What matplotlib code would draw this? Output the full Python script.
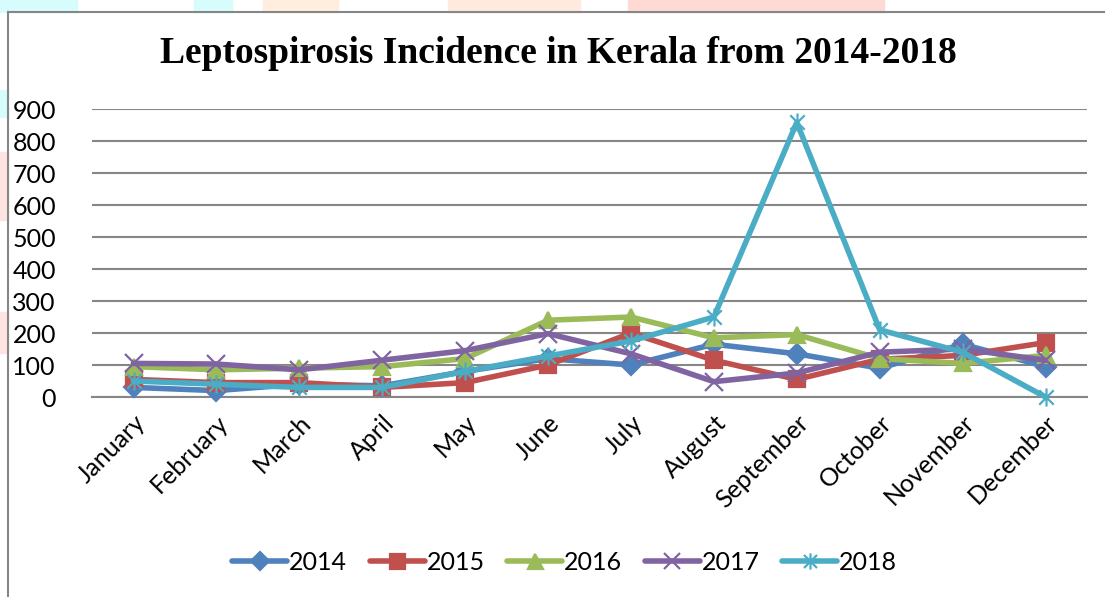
"""
Monthly leptospirosis cases in Kerala, one line per year (2014-2018).
"""

import matplotlib.pyplot as plt
from matplotlib.path import Path
from matplotlib.patches import Rectangle
from matplotlib.lines import Line2D

months = ["January", "February", "March", "April", "May", "June", "July",
          "August", "September", "October", "November", "December"]

cases_2014 = [30, 20, 40, 35, 80, 120, 100, 165, 135, 90, 165, 95]
cases_2015 = [55, 45, 45, 30, 45, 100, 200, 115, 55, 118, 130, 170]
cases_2016 = [95, 85, 90, 95, 120, 240, 250, 185, 195, 120, 105, 130]
cases_2017 = [105, 103, 85, 115, 145, 198, 135, 48, 75, 140, 150, 115]
cases_2018 = [50, 40, 30, 30, 80, 128, 175, 250, 858, 210, 140, 0]

years = ["2014", "2015", "2016", "2017", "2018"]
colors = ["#4F81BD", "#C0504D", "#9BBB59", "#8064A2", "#4BACC6"]

# Excel-style "star" marker: an x with a vertical bar through it
star = Path([(-1, -1), (1, 1), (-1, 1), (1, -1), (0, -1.25), (0, 1.25)],
            [Path.MOVETO, Path.LINETO, Path.MOVETO, Path.LINETO,
             Path.MOVETO, Path.LINETO])
markers = ["D", "s", "^", "x", star]
msizes = [10, 12, 12, 13, 13]

plt.rcParams["font.family"] = ["Lato", "DejaVu Sans"]

fig = plt.figure(figsize=(11.05, 5.97), dpi=100)

# faint background strips around the chart frame
for x0, w, c in [(0, 0.07, "#D6FCFC"), (0.176, 0.034, "#D6FCFC"),
                 (0.238, 0.068, "#FFEEDD"), (0.405, 0.12, "#FFEADD"),
                 (0.568, 0.232, "#FFDAD5")]:
    fig.patches.append(Rectangle((x0, 0.98), w, 0.02, transform=fig.transFigure,
                                 color=c, zorder=0))
for y0, h, c in [(0.804, 0.045, "#D6FCFC"), (0.631, 0.114, "#FFE3E0"),
                 (0.409, 0.068, "#FFE3E0")]:
    fig.patches.append(Rectangle((0, y0), 0.007, h, transform=fig.transFigure,
                                 color=c, zorder=0))

# chart frame (top and left edges)
fig.add_artist(Line2D([0.0075, 1.0], [0.98, 0.98], transform=fig.transFigure,
                      color="#868686", lw=1.5))
fig.add_artist(Line2D([0.0075, 0.0075], [0.0, 0.98], transform=fig.transFigure,
                      color="#868686", lw=1.5))

ax = fig.add_axes([0.0833, 0.335, 0.9004, 0.4824])

series = [cases_2014, cases_2015, cases_2016, cases_2017, cases_2018]
x = list(range(len(months)))
for vals, year, col, mk, ms in zip(series, years, colors, markers, msizes):
    ax.plot(x, vals, color=col, lw=4, marker=mk, markersize=ms,
            markeredgewidth=1.6, markerfacecolor=col, markeredgecolor=col,
            solid_capstyle="round", label=year, zorder=3, clip_on=False)

ax.set_xlim(-0.5, len(months) - 0.5)
ax.set_ylim(0, 900)
ax.set_yticks(range(0, 901, 100))
ax.yaxis.grid(True, color="#868686", lw=1.5)
ax.set_axisbelow(True)
for side in ["top", "right", "left"]:
    ax.spines[side].set_visible(False)
ax.spines["bottom"].set_color("#868686")
ax.spines["bottom"].set_linewidth(1.5)
ax.tick_params(axis="both", length=0, labelsize=18)
ax.tick_params(axis="y", pad=26)
ax.set_xticks(x)
ax.set_xticklabels(months, rotation=45, ha="right", rotation_mode="anchor")
ax.tick_params(axis="x", pad=10)

fig.text(0.505, 0.91, "Leptospirosis Incidence in Kerala from 2014-2018",
         ha="center", va="center", fontsize=27, fontweight="bold",
         family="Liberation Serif")

ax.legend(loc="center", bbox_to_anchor=(0.511, 0.058),
          bbox_transform=fig.transFigure, ncol=5, frameon=False,
          fontsize=18, handlelength=2.2, handletextpad=0.08,
          columnspacing=0.9, markerscale=0.9)

fig.savefig("out.png", dpi=100)
